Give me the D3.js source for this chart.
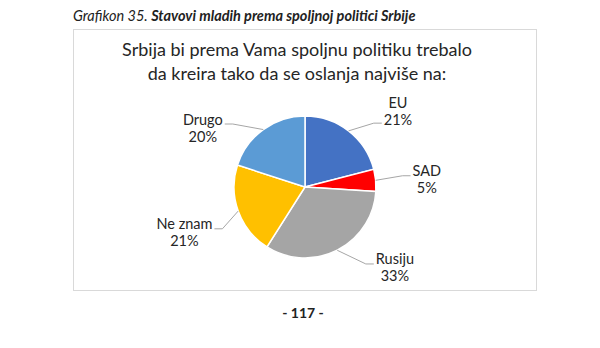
<!DOCTYPE html>
<html>
<head>
<meta charset="utf-8">
<script src="https://cdn.jsdelivr.net/npm/d3@7"></script>
<style>
  body { margin: 0; background: #fff; }
  svg { display: block; font-family: Lato, "Open Sans", sans-serif; }
</style>
</head>
<body>
<svg id="chart" width="600" height="348"></svg>
<script>
var categories = ['EU', 'SAD', 'Rusiju', 'Ne znam', 'Drugo'];
var values = [21, 5, 33, 21, 20];
var colours = ['#4472c4', '#ff0000', '#a5a5a5', '#ffc000', '#5b9bd5'];
var titleLines = ['Srbija bi prema Vama spoljnu politiku trebalo', 'da kreira tako da se oslanja najviše na:'];

var svg = d3.select('#chart');
var cx = 305, cy = 187, radius = 71;

// caption above the chart box
var cap = svg.append('text').attr('x', 73).attr('y', 21)
    .attr('font-size', 14.5).attr('font-style', 'italic').attr('fill', '#222');
cap.append('tspan').text('Grafikon 35. ');
cap.append('tspan').attr('font-weight', 'bold').text('Stavovi mladih prema spoljnoj politici Srbije');

// chart box
svg.append('rect').attr('x', 73.5).attr('y', 29.5).attr('width', 463).attr('height', 261)
    .attr('fill', 'none').attr('stroke', '#d9d9d9');

svg.append('g').selectAll('text').data(titleLines).enter().append('text')
    .attr('x', 297).attr('y', function (d, i) { return 56 + i * 24; })
    .attr('text-anchor', 'middle').attr('font-size', 18).attr('fill', '#262626')
    .text(function (d) { return d; });

var pie = d3.pie().sort(null).value(function (d) { return d.value; });
var data = categories.map(function (c, i) { return { name: c, value: values[i], colour: colours[i] }; });
var arcs = pie(data);
var arc = d3.arc().innerRadius(0).outerRadius(radius);

var g = svg.append('g').attr('transform', 'translate(' + cx + ',' + cy + ')');
g.selectAll('path').data(arcs).enter().append('path')
    .attr('d', arc)
    .attr('fill', function (d) { return d.data.colour; })
    .attr('stroke', '#fff').attr('stroke-width', 1.5);

// label placement: angle nudges (degrees) and distances mimic the best-fit layout
var nudge = { 'EU': [13, 120], 'SAD': [2, 122], 'Rusiju': [-21, 121], 'Ne znam': [-1, 129], 'Drugo': [-24, 118] };
var lineH = 17;
arcs.forEach(function (d) {
    var mid = (d.startAngle + d.endAngle) / 2;
    var n = nudge[d.data.name];
    var a = mid + n[0] * Math.PI / 180;
    var lx = Math.sin(a) * n[1], ly = -Math.cos(a) * n[1];
    var label = g.append('g');
    var t = label.append('text').attr('text-anchor', 'middle').attr('font-size', 14.5).attr('fill', '#262626');
    t.append('tspan').attr('x', lx).attr('y', ly - lineH / 2 + 5).text(d.data.name);
    t.append('tspan').attr('x', lx).attr('y', ly + lineH / 2 + 5).text(d.data.value + '%');
    var box = t.node().getBBox();
    var right = lx > 0;
    var sx = Math.sin(mid) * radius, sy = -Math.cos(mid) * radius;
    var ex = right ? box.x - 2 : box.x + box.width + 2;
    var ey = d.data.name === 'EU' ? ly + 12 : ly - 4;
    var kx = right ? ex - 8 : ex + 8;
    label.insert('path', 'text')
        .attr('d', d3.line()([[sx, sy], [kx, ey], [ex, ey]]))
        .attr('fill', 'none').attr('stroke', '#a6a6a6').attr('stroke-width', 1);
});

svg.append('text').attr('x', 303).attr('y', 318).attr('text-anchor', 'middle')
    .attr('font-size', 14).attr('font-weight', 'bold').attr('fill', '#222').text('- 117 -');
</script>
</body>
</html>
